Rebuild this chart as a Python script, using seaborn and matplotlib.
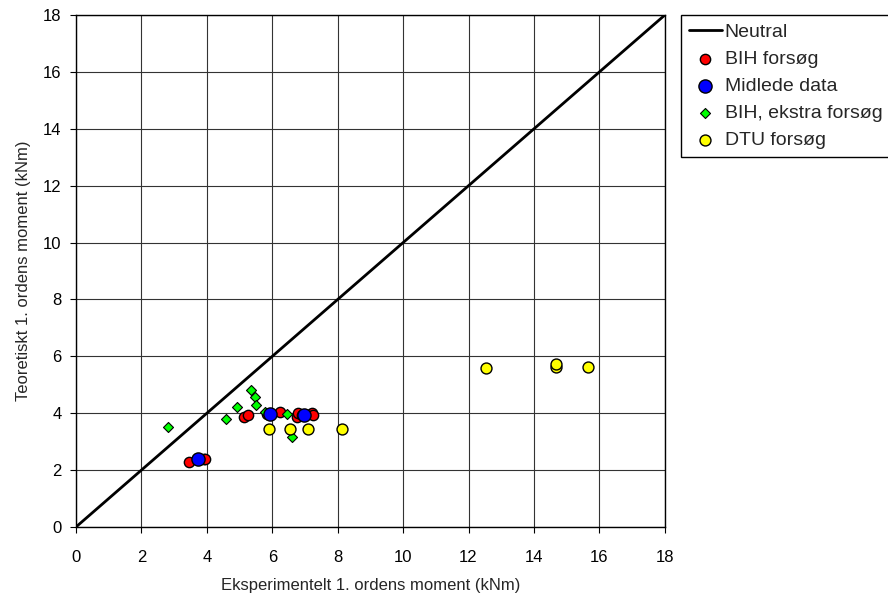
import matplotlib
matplotlib.use("Agg")
import matplotlib.pyplot as plt
import seaborn as sns

# Neutral line (theory = experiment)
neutral_x = [0, 18]
neutral_y = [0, 18]

# BIH tests
bih_x = [3.46, 3.80, 3.90, 3.95, 5.15, 5.25, 5.85, 6.23, 6.75, 6.80, 6.90, 7.20, 7.26]
bih_y = [2.29, 2.38, 2.40, 2.39, 3.88, 3.92, 3.96, 4.06, 3.87, 3.99, 3.95, 3.99, 3.94]

# Averaged data
mid_x = [3.73, 5.93, 6.98]
mid_y = [2.38, 3.96, 3.92]

# BIH, extra tests
ekstra_x = [2.80, 4.60, 4.91, 5.34, 5.47, 5.50, 5.77, 6.44, 6.61]
ekstra_y = [3.52, 3.81, 4.22, 4.80, 4.56, 4.29, 4.06, 3.96, 3.16]

# DTU tests
dtu_x = [5.91, 6.54, 7.10, 8.13, 12.53, 14.69, 14.69, 15.66]
dtu_y = [3.44, 3.44, 3.44, 3.44, 5.60, 5.64, 5.72, 5.63]

ticks = [0, 2, 4, 6, 8, 10, 12, 14, 16, 18]

sns.set_style("white")
plt.rcParams["font.family"] = ["Liberation Sans", "DejaVu Sans"]

fig = plt.figure(figsize=(8.88, 6.05), dpi=100)
ax = fig.add_axes([0.0856, 0.129, 0.663, 0.846])

sns.lineplot(x=neutral_x, y=neutral_y, ax=ax, color="black", lw=2,
             label="Neutral", zorder=3)
sns.scatterplot(x=bih_x, y=bih_y, ax=ax, color="#ff0000", marker="o", s=55,
                edgecolor="black", linewidth=1, label="BIH forsøg", zorder=4)
sns.scatterplot(x=ekstra_x, y=ekstra_y, ax=ax, color="#00ff00", marker="D", s=26,
                edgecolor="black", linewidth=0.8, label="BIH, ekstra forsøg", zorder=4)
sns.scatterplot(x=mid_x, y=mid_y, ax=ax, color="#0000ff", marker="o", s=90,
                edgecolor="black", linewidth=1, label="Midlede data", zorder=5)
sns.scatterplot(x=dtu_x, y=dtu_y, ax=ax, color="#ffff00", marker="o", s=62,
                edgecolor="black", linewidth=1, label="DTU forsøg", zorder=4)

ax.set_xlim(0, 18)
ax.set_ylim(0, 18)
ax.set_xticks(ticks)
ax.set_yticks(ticks)
ax.grid(True, color="#333333", lw=0.8)
ax.set_axisbelow(True)
for sp in ax.spines.values():
    sp.set_color("black")
    sp.set_linewidth(1)
ax.tick_params(axis="both", which="both", direction="out", length=4.3, width=0.8,
               colors="black", labelsize=12, bottom=True, left=True)
ax.tick_params(axis="x", pad=12)
ax.tick_params(axis="y", pad=6)

ax.set_xlabel("Eksperimentelt 1. ordens moment (kNm)", fontsize=12, labelpad=10)
ax.set_ylabel("Teoretiskt 1. ordens moment (kNm)", fontsize=12, labelpad=9)

handles, labels = ax.get_legend_handles_labels()
order = ["Neutral", "BIH forsøg", "Midlede data", "BIH, ekstra forsøg", "DTU forsøg"]
hmap = dict(zip(labels, handles))
leg = ax.legend([hmap[k] for k in order], order, loc="upper left",
                bbox_to_anchor=(1.027, 1.0), fontsize=14, frameon=True,
                fancybox=False, edgecolor="black", framealpha=1,
                handlelength=1.7, handletextpad=0.15, labelspacing=0.48,
                borderpad=0.42, borderaxespad=0)
leg.get_frame().set_linewidth(1)

fig.savefig("out.png", dpi=100)
